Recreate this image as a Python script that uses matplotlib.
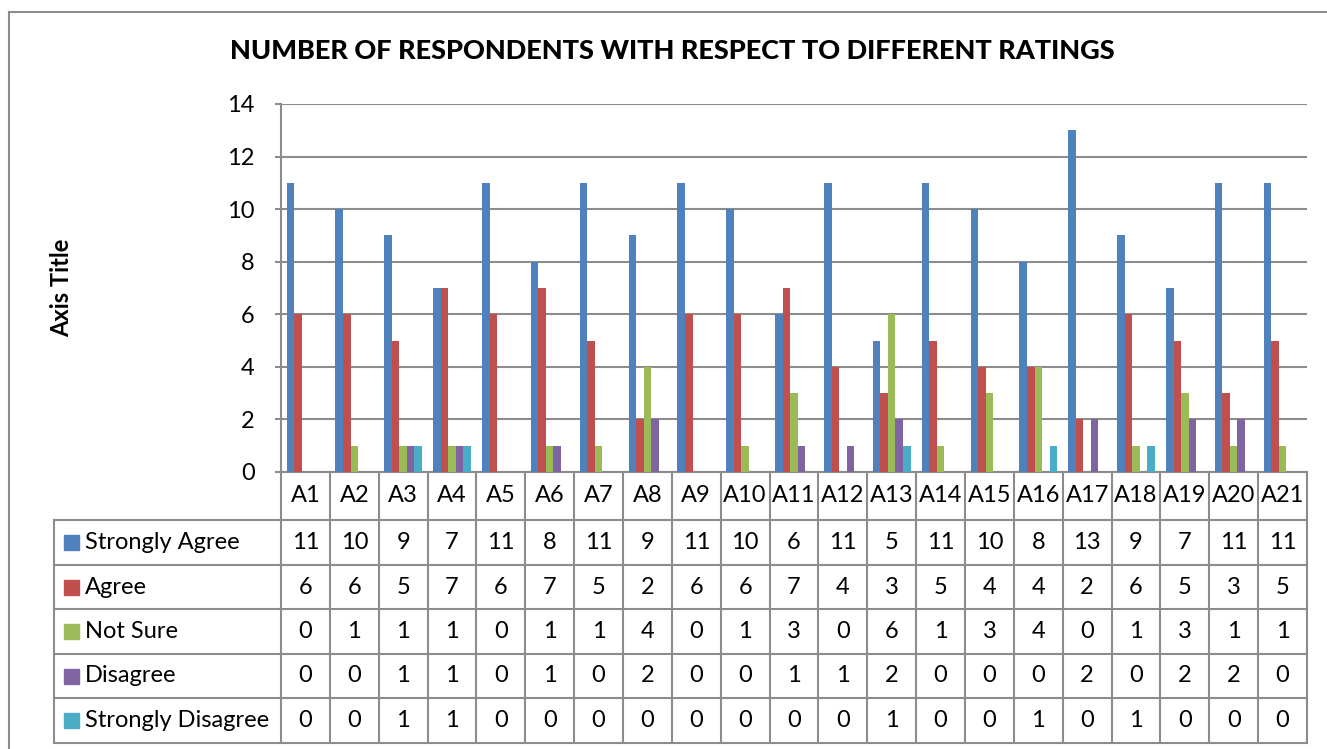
import numpy as np
import matplotlib.pyplot as plt
from matplotlib.transforms import blended_transform_factory

plt.rcParams['font.family'] = ['Lato', 'DejaVu Sans']

questions = ['A1', 'A2', 'A3', 'A4', 'A5', 'A6', 'A7', 'A8', 'A9', 'A10', 'A11',
             'A12', 'A13', 'A14', 'A15', 'A16', 'A17', 'A18', 'A19', 'A20', 'A21']
strongly_agree = [11, 10, 9, 7, 11, 8, 11, 9, 11, 10, 6, 11, 5, 11, 10, 8, 13, 9, 7, 11, 11]
agree = [6, 6, 5, 7, 6, 7, 5, 2, 6, 6, 7, 4, 3, 5, 4, 4, 2, 6, 5, 3, 5]
not_sure = [0, 1, 1, 1, 0, 1, 1, 4, 0, 1, 3, 0, 6, 1, 3, 4, 0, 1, 3, 1, 1]
disagree = [0, 0, 1, 1, 0, 1, 0, 2, 0, 0, 1, 1, 2, 0, 0, 0, 2, 0, 2, 2, 0]
strongly_disagree = [0, 0, 1, 1, 0, 0, 0, 0, 0, 0, 0, 0, 1, 0, 0, 1, 0, 1, 0, 0, 0]

series_names = ['Strongly Agree', 'Agree', 'Not Sure', 'Disagree', 'Strongly Disagree']
series = [strongly_agree, agree, not_sure, disagree, strongly_disagree]
colors = ['#4F81BD', '#C0504D', '#9BBB59', '#8064A2', '#4BACC6']
y_ticks = [0, 2, 4, 6, 8, 10, 12, 14]

W, H = 1327, 749
grey = '#8c8c8c'
fs = 17

fig = plt.figure(figsize=(W / 100, H / 100), dpi=100)

# pixel overlay for frame + table
ov = fig.add_axes([0, 0, 1, 1])
ov.set_xlim(0, W)
ov.set_ylim(H, 0)
ov.axis('off')

ax = fig.add_axes([281 / W, 1 - 472 / H, 1026 / W, 368 / H])
n = len(questions)
x = np.arange(n) + 0.5
bw = 1 / 6.5
for k, (vals, c) in enumerate(zip(series, colors)):
    ax.bar(x + (k - 2) * bw, vals, width=bw, color=c, zorder=3)

ax.set_xlim(0, n)
ax.set_ylim(0, 14)
ax.set_yticks(y_ticks)
ax.set_xticks([])
ax.yaxis.grid(True, color=grey, lw=1.5, zorder=0)
for s in ['top', 'right']:
    ax.spines[s].set_visible(False)
ax.spines['left'].set_color(grey)
ax.spines['left'].set_linewidth(1.5)
ax.spines['bottom'].set_color(grey)
ax.spines['bottom'].set_linewidth(1.5)
ax.tick_params(axis='y', length=4, width=1.5, color=grey, labelsize=fs, pad=15)

# outer chart frame
ov.plot([9, 9], [H, 12], color=grey, lw=1.5)
ov.plot([9, W], [12, 12], color=grey, lw=1.5)

fig.text(672 / W, 1 - 51 / H, 'NUMBER OF RESPONDENTS WITH RESPECT TO DIFFERENT RATINGS',
         ha='center', va='center', fontsize=19.5, fontweight='black')
fig.text(62 / W, 1 - 288 / H, 'Axis Title', rotation=90, ha='center', va='center',
         fontsize=fs, fontweight='bold')

# data table
tr = blended_transform_factory(ax.transData, ov.transData)
rows_y = [520, 565, 609, 654, 698, 743]
for i in range(n + 1):
    ov.plot([i, i], [472, 743], color=grey, lw=1.5, transform=tr, clip_on=False)
for yy in rows_y:
    ov.plot([0, n], [yy, yy], color=grey, lw=1.5, transform=tr, clip_on=False)
    ov.plot([54, 281], [yy, yy], color=grey, lw=1.5)
ov.plot([54, 54], [520, 743], color=grey, lw=1.5)

for i, q in enumerate(questions):
    ov.text(i + 0.5, 496, q, ha='center', va='center', fontsize=fs, transform=tr)

for r, (name, vals, c) in enumerate(zip(series_names, series, colors)):
    yc = (rows_y[r] + rows_y[r + 1]) / 2
    ov.add_patch(plt.Rectangle((64, yc - 7.5), 15, 15, color=c))
    ov.text(85, yc, name, ha='left', va='center', fontsize=fs)
    for i, v in enumerate(vals):
        ov.text(i + 0.5, yc, str(v), ha='center', va='center', fontsize=fs, transform=tr)

fig.savefig('out.png', dpi=100)
